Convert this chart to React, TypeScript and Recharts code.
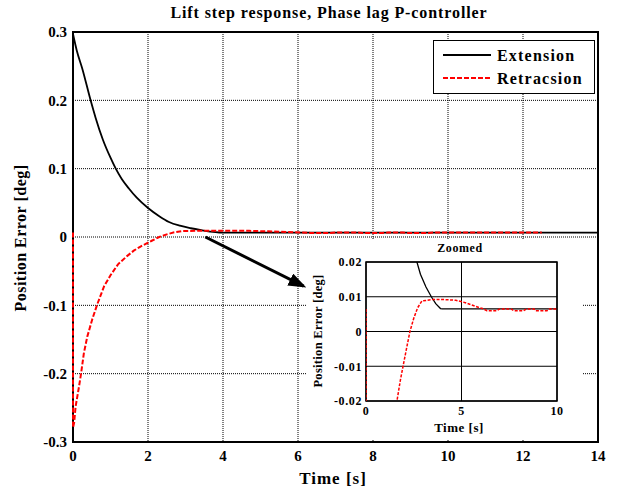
import React from 'react';
import { LineChart, Line, XAxis, YAxis, CartesianGrid, ReferenceArea, ReferenceLine, Legend } from 'recharts';

// ---- data ----
const extT = [0, 0.1, 0.25, 0.47, 0.6, 0.8, 1.0, 1.14, 1.3, 1.49, 1.7, 2.0, 2.3, 2.56, 2.85, 3.14, 3.42, 3.65, 3.9, 4.0, 14];
const extV = [0.297, 0.273, 0.246, 0.2, 0.175, 0.142, 0.116, 0.1, 0.085, 0.071, 0.0575, 0.0425, 0.0305, 0.022, 0.0165, 0.0128, 0.01, 0.008, 0.0066, 0.0065, 0.0065];

const retT = [0, 0, 0.03, 0.07, 0.16, 0.22, 0.29, 0.38, 0.51, 0.65, 0.83, 1.0, 1.2, 1.44, 1.62, 1.8, 1.94, 2.1, 2.3, 2.5, 2.7, 2.93, 3.5, 4.0, 4.7, 5.2, 5.7, 6.1, 6.33, 6.86, 7.0, 7.6, 7.73, 8.25, 8.4, 8.8, 8.87, 9.48, 9.6, 12.5];
const retV = [0.0065, -0.279, -0.272, -0.248, -0.219, -0.198, -0.17, -0.146, -0.121, -0.098, -0.072, -0.056, -0.04, -0.028, -0.02, -0.014, -0.01, -0.0055, 0, 0.0038, 0.0068, 0.0088, 0.0092, 0.0092, 0.009, 0.0083, 0.0073, 0.0066, 0.006, 0.006, 0.0065, 0.0065, 0.006, 0.006, 0.0065, 0.0065, 0.006, 0.006, 0.0065, 0.0065];

const mainXTicks = [0, 2, 4, 6, 8, 10, 12, 14];
const mainYTicks = [-0.3, -0.2, -0.1, 0, 0.1, 0.2, 0.3];
const zoomXTicks = [0, 5, 10];
const zoomYTicks = [-0.02, -0.01, 0, 0.01, 0.02];

const arrowFrom = { t: 3.53, v: 0.0 };
const arrowTo = { t: 6.15, v: -0.072 };

const extData = extT.map((t, i) => ({ t, v: extV[i] }));
const retData = retT.map((t, i) => ({ t, v: retV[i] }));

const FONT = '"Liberation Serif", "Times New Roman", serif';

const ArrowShape = (props: any) => {
  const { x1, y1, x2, y2 } = props;
  if (x1 == null) return null;
  return (
    <g>
      <defs>
        <marker id="arrowHead" markerWidth="6" markerHeight="4.4" refX="5" refY="2.2" orient="auto" markerUnits="strokeWidth">
          <path d="M0,0 L6,2.2 L0,4.4 Z" fill="#000" />
        </marker>
      </defs>
      <line x1={x1} y1={y1} x2={x2} y2={y2} stroke="#000" strokeWidth={3} markerEnd="url(#arrowHead)" />
    </g>
  );
};

const LegendBox = (props: any) => {
  const payload = props.payload || [];
  const dashes = ['', '5 2'];
  return (
    <div style={{ width: 162, height: 54, border: '1.5px solid #000', background: '#fff', boxSizing: 'border-box' }}>
      <svg width={160} height={52} style={{ display: 'block' }}>
        {payload.map((p: any, i: number) => (
          <g key={i}>
            <line x1={9} x2={57} y1={14 + i * 23} y2={14 + i * 23} stroke={p.color} strokeWidth={2} strokeDasharray={dashes[i]} />
            <text x={63} y={20 + i * 23} fontFamily={FONT} fontWeight="bold" fontSize={16} letterSpacing={1.2} fill="#000">{p.value}</text>
          </g>
        ))}
      </svg>
    </div>
  );
};

export default function App() {
  const tickStyle = { fontFamily: FONT, fontWeight: 'bold', fontSize: 15, fill: '#000' } as any;
  const zTick = { fontFamily: FONT, fontWeight: 'bold', fontSize: 12, fill: '#000', letterSpacing: 0.6 } as any;
  return (
    <div style={{ position: 'absolute', left: 0, top: 0, width: 619, height: 490, background: '#fff' }}>
      <LineChart width={619} height={490} margin={{ top: 32, right: 21, bottom: 0, left: 0 }}>
        <CartesianGrid stroke="#000" strokeDasharray="1 1" strokeWidth={1} />
        <XAxis dataKey="t" type="number" domain={[0, 14]} ticks={mainXTicks} height={48}
          axisLine={false} tickLine={false} tickSize={6} tickMargin={2} tick={tickStyle} interval={0} />
        <YAxis type="number" domain={[-0.3, 0.3]} ticks={mainYTicks} width={73}
          axisLine={false} tickLine={false} tickSize={6} tickMargin={0} tick={tickStyle} interval={0} />
        <ReferenceArea x1={0} x2={14} y1={-0.3} y2={0.3} fill="none" stroke="#000" strokeWidth={2} fillOpacity={0} />
        <Line data={extData} dataKey="v" name="Extension" type="monotone" stroke="#000" strokeWidth={1.8} dot={false} isAnimationActive={false} />
        <Line data={retData} dataKey="v" name="Retracsion" type="linear" stroke="#ff0000" strokeWidth={2} strokeDasharray="5 2" dot={false} isAnimationActive={false} />
        <ReferenceLine segment={[{ x: arrowFrom.t, y: arrowFrom.v }, { x: arrowTo.t, y: arrowTo.v }]} shape={ArrowShape} />
        <Legend layout="vertical" align="center" verticalAlign="middle" content={LegendBox}
          wrapperStyle={{ position: 'absolute', left: 433, top: 40, width: 162, height: 54 }} />
        <text x={329} y={18} textAnchor="middle" fontFamily={FONT} fontWeight="bold" fontSize={16} letterSpacing={0.9} fill="#000">Lift step response, Phase lag P-controller</text>
        <text x={333} y={484} textAnchor="middle" fontFamily={FONT} fontWeight="bold" fontSize={17} letterSpacing={1} fill="#000">Time [s]</text>
        <text x={26} y={238} transform="rotate(-90 26 238)" textAnchor="middle" fontFamily={FONT} fontWeight="bold" fontSize={16} letterSpacing={0.5} fill="#000">Position Error [deg]</text>
      </LineChart>

      <div style={{ position: 'absolute', left: 307, top: 239, width: 276, height: 201, background: '#fff' }}>
        <LineChart width={276} height={201} margin={{ top: 23, right: 26, bottom: 0, left: 0 }}>
          <CartesianGrid stroke="#000" strokeWidth={1} />
          <XAxis dataKey="t" type="number" domain={[0, 10]} ticks={zoomXTicks} allowDataOverflow height={39}
            axisLine={false} tickLine={false} tickSize={5} tickMargin={0} tick={zTick} interval={0} />
          <YAxis type="number" domain={[-0.02, 0.02]} ticks={zoomYTicks} allowDataOverflow width={59}
            axisLine={false} tickLine={false} tickSize={4} tickMargin={0} tick={zTick} interval={0} />
          <ReferenceArea x1={0} x2={10} y1={-0.02} y2={0.02} fill="none" stroke="#000" strokeWidth={1.5} fillOpacity={0} />
          <Line data={extData} dataKey="v" name="Extension" type="linear" stroke="#000" strokeWidth={1.3} dot={false} isAnimationActive={false} />
          <Line data={retData} dataKey="v" name="Retracsion" type="linear" stroke="#ff0000" strokeWidth={1.5} strokeDasharray="3 1.5" dot={false} isAnimationActive={false} />
          <text x={153} y={13} textAnchor="middle" fontFamily={FONT} fontWeight="bold" fontSize={12} letterSpacing={0.6} fill="#000">Zoomed</text>
          <text x={152} y={193} textAnchor="middle" fontFamily={FONT} fontWeight="bold" fontSize={13} letterSpacing={0.5} fill="#000">Time [s]</text>
          <text x={15} y={92} transform="rotate(-90 15 92)" textAnchor="middle" fontFamily={FONT} fontWeight="bold" fontSize={12.5} letterSpacing={0.3} fill="#000">Position Error [deg]</text>
        </LineChart>
      </div>
    </div>
  );
}
